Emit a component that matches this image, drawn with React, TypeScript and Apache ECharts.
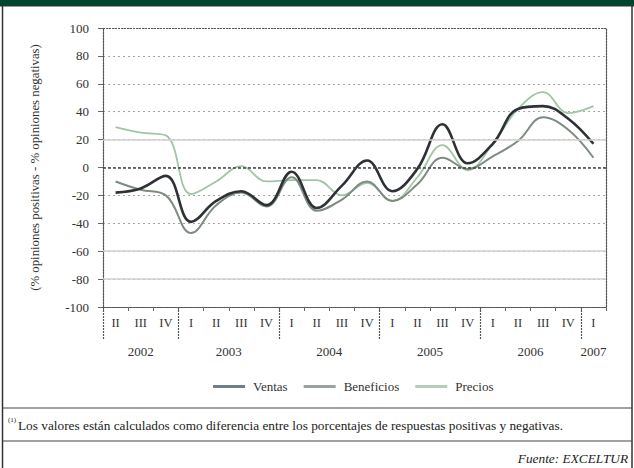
import React, { useEffect, useRef } from "react";
import * as echarts from "echarts";

const quarters = ["II", "III", "IV", "I", "II", "III", "IV", "I", "II", "III", "IV", "I", "II", "III", "IV", "I", "II", "III", "IV", "I"];
const quarterYears = ["2002", "2002", "2002", "2003", "2003", "2003", "2003", "2004", "2004", "2004", "2004", "2005", "2005", "2005", "2005", "2006", "2006", "2006", "2006", "2007"];
const ventas = [-18, -15, -6, -39, -24, -17, -27, -3, -29, -13, 5, -17, -1, 31, 3, 17, 42, 44, 35, 17];
const beneficios = [-10, -16, -20, -47, -27, -18, -28, -7, -31, -23, -10, -24, -12, 7, -1, 8, 19, 36, 27, 7];
const precios = [29, 25, 23, -19, -10, 1, -10, -9, -9, -20, -11, -24, -7, 16, -2, 17, 42, 54, 39, 44];
const solidGridValues = [20, -60, -80];
const zeroValue = 0;
const topValue = 100;

const seriesNames = ["Ventas", "Beneficios", "Precios"];
const yAxisName = "(% opiniones positivas - % opiniones negativas)";
const footnote = "Los valores están calculados como diferencia entre los porcentajes de respuestas positivas y negativas.";
const source = "Fuente: EXCELTUR";

// year groups derived from quarter years
const yearGroups: { year: string; start: number; end: number }[] = [];
quarterYears.forEach((y, i) => {
  const last = yearGroups[yearGroups.length - 1];
  if (last && last.year === y) last.end = i + 1;
  else yearGroups.push({ year: y, start: i, end: i + 1 });
});
const yearBoundaries = yearGroups.map((g) => g.start);
const yearCenters = yearGroups.map((g) => (g.start + g.end) / 2);

const SERIF = "'Liberation Serif', 'Times New Roman', serif";

export default function App() {
  const ref = useRef<HTMLDivElement>(null);
  useEffect(() => {
    if (!ref.current) return;
    const chart = echarts.init(ref.current, undefined, { renderer: "svg" });
    const W = 634;
    const option: any = {
      animation: false,
      backgroundColor: "#ffffff",
      textStyle: { fontFamily: SERIF },
      grid: { left: 103, right: 28, top: 28, bottom: 161, containLabel: false },
      legend: {
        data: seriesNames,
        left: 208,
        top: 375,
        icon: "rect",
        itemWidth: 32,
        itemHeight: 3,
        itemGap: 16,
        textStyle: { fontFamily: SERIF, fontSize: 13, color: "#333", padding: [0, 0, 0, 3] },
      },
      xAxis: [
        {
          type: "category",
          data: quarters,
          boundaryGap: true,
          axisLine: { onZero: false, lineStyle: { color: "#555", type: [2, 1], width: 1.2 } },
          axisTick: { show: true, interval: 0, length: 4, alignWithLabel: false, lineStyle: { color: "#666" } },
          axisLabel: { interval: 0, margin: 9, fontFamily: SERIF, fontSize: 12.5, color: "#333" },
          splitLine: { show: false },
        },
        {
          type: "value",
          min: 0,
          max: quarters.length,
          position: "bottom",
          axisLine: { show: false, onZero: false },
          axisTick: {
            show: true,
            length: 33,
            customValues: yearBoundaries,
            lineStyle: { color: "#555", type: [2, 1], width: 1.2 },
          },
          axisLabel: {
            show: true,
            margin: 38,
            customValues: yearCenters,
            formatter: (v: number) => {
              const g = yearGroups.find((gg) => Math.abs((gg.start + gg.end) / 2 - v) < 1e-6);
              return g ? g.year : "";
            },
            fontFamily: SERIF,
            fontSize: 13,
            color: "#333",
          },
          splitLine: { show: false },
        },
      ],
      yAxis: [
        {
          type: "value",
          min: -100,
          max: 100,
          interval: 20,
          name: yAxisName,
          nameLocation: "middle",
          nameGap: 62,
          nameTextStyle: { fontFamily: SERIF, fontSize: 12.8, color: "#333" },
          axisLine: { show: true, lineStyle: { color: "#555", type: [2, 1], width: 1.2 } },
          axisTick: { show: true, length: 5, lineStyle: { color: "#666" } },
          axisLabel: { margin: 14, fontFamily: SERIF, fontSize: 13, color: "#333" },
          splitLine: { show: true, lineStyle: { color: "#aaa4a4", type: [2, 3], width: 1 } },
        },
        {
          type: "value",
          min: -100,
          max: 100,
          interval: 20,
          position: "right",
          axisLine: { show: true, lineStyle: { color: "#555", type: [2, 1], width: 1.2 } },
          axisTick: { show: false },
          axisLabel: { show: false },
          splitLine: { show: false },
        },
      ],
      series: [
        {
          name: "_ref",
          type: "line",
          data: [],
          silent: true,
          markLine: {
            silent: true,
            symbol: "none",
            label: { show: false },
            data: [
              ...solidGridValues.map((v) => ({ yAxis: v, lineStyle: { color: "#d6cfcf", type: "solid", width: 1.5 } })),
              { yAxis: zeroValue, lineStyle: { color: "#444", type: [3, 2], width: 1.5 } },
              { yAxis: topValue, lineStyle: { color: "#555", type: [2, 1], width: 1.2 } },
            ],
          },
        },
        {
          name: "Precios",
          type: "line",
          data: precios,
          smooth: 0.4,
          symbol: "none",
          lineStyle: { color: "#a3c4a6", width: 1.8 },
          itemStyle: { color: "#b9ccbb" },
        },
        {
          name: "Beneficios",
          type: "line",
          data: beneficios,
          smooth: 0.4,
          symbol: "none",
          lineStyle: { color: "#7d8b80", width: 2 },
          itemStyle: { color: "#9aa39c" },
        },
        {
          name: "Ventas",
          type: "line",
          data: ventas,
          smooth: 0.4,
          symbol: "none",
          lineStyle: { color: "#2e3236", width: 2.6 },
          itemStyle: { color: "#6d7f8c" },
        },
      ],
      graphic: [
        { type: "rect", shape: { x: 0, y: 0, width: W, height: 6 }, style: { fill: "#00452f" } },
        { type: "line", shape: { x1: 0, y1: 6, x2: W, y2: 6 }, style: { stroke: "#333", lineWidth: 1 } },
        { type: "line", shape: { x1: 2.5, y1: 6, x2: 2.5, y2: 468 }, style: { stroke: "#333", lineWidth: 1.5 } },
        { type: "line", shape: { x1: 632, y1: 6, x2: 632, y2: 468 }, style: { stroke: "#333", lineWidth: 1.5 } },
        { type: "line", shape: { x1: 2.5, y1: 408, x2: 632, y2: 408 }, style: { stroke: "#444", lineWidth: 1.2 } },
        { type: "line", shape: { x1: 2.5, y1: 441, x2: 632, y2: 441 }, style: { stroke: "#444", lineWidth: 1.2 } },
        { type: "text", x: 8, y: 420, style: { text: "(1)", fontFamily: SERIF, fontSize: 7, fill: "#222", verticalAlign: "middle" } },
        { type: "text", x: 18, y: 425, style: { text: footnote, fontFamily: SERIF, fontSize: 13.3, fill: "#222", verticalAlign: "middle" } },
        { type: "text", x: 628, y: 458, style: { text: source, fontFamily: SERIF, fontSize: 13.3, fontStyle: "italic", fill: "#222", align: "right", verticalAlign: "middle" } },
      ],
    };
    chart.setOption(option);
    return () => chart.dispose();
  }, []);
  return (
    <div style={{ position: "fixed", left: 0, top: 0, width: 634, height: 468, background: "#fff" }}>
      <div ref={ref} style={{ width: 634, height: 468 }} />
    </div>
  );
}
